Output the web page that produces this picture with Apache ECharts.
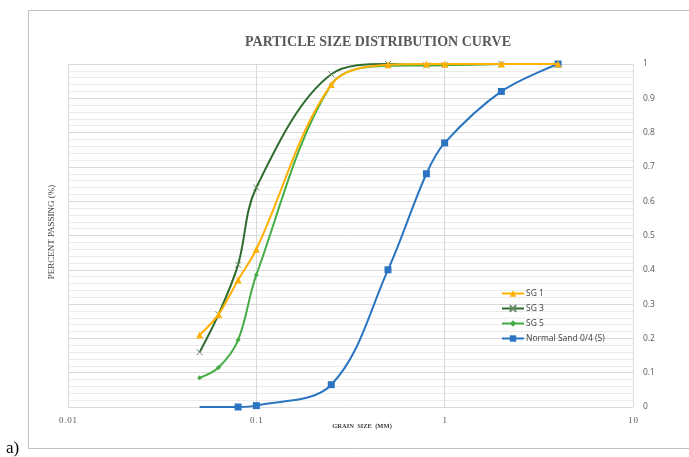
<!DOCTYPE html>
<html><head><meta charset="utf-8">
<script src="https://cdn.jsdelivr.net/npm/echarts@6/dist/echarts.min.js"></script>
<style>html,body{margin:0;padding:0;background:#fff}#c{width:689px;height:457px}</style>
</head><body><div id="c"></div>
<script>
var sizes = [0.05, 0.063, 0.08, 0.1, 0.25, 0.5, 0.8, 1, 2, 4];
var sg1 = [0.21, 0.27, 0.37, 0.46, 0.94, 0.998, 1.0, 1.0, 1.0, 1.0];
var sg3 = [0.16, 0.27, 0.415, 0.64, 0.97, 1.0, 0.996, 0.997, 1.0, null];
var sg5 = [0.085, 0.115, 0.195, 0.385, 0.94, 0.995, 0.996, 0.997, 1.0, null];
var sand = [0, null, 0, 0.004, 0.065, 0.40, 0.68, 0.77, 0.92, 1.0];
var xTicks = [0.01, 0.1, 1, 10];
var yTicks = [0, 0.1, 0.2, 0.3, 0.4, 0.5, 0.6, 0.7, 0.8, 0.9, 1];
var seriesNames = ['SG 1', 'SG 3', 'SG 5', 'Normal Sand 0/4 (S)'];

function pairs(vals, noSymbolFirst) {
  var out = [];
  for (var i = 0; i < sizes.length; i++) {
    if (vals[i] === null) continue;
    var item = { value: [sizes[i], vals[i]] };
    if (noSymbolFirst && out.length === 0) item.symbol = 'none';
    out.push(item);
  }
  return out;
}

var chart = echarts.init(document.getElementById('c'), null, { renderer: 'canvas' });
var crossPath = 'path://M0,0L10,10M10,0L0,10';
var option = {
  animation: false,
  backgroundColor: '#ffffff',
  grid: { left: 68, right: 56, top: 64, bottom: 50 },
  legend: {
    orient: 'vertical', left: 496, top: 284, itemGap: 6,
    itemWidth: 22, itemHeight: 8,
    textStyle: { fontFamily: 'Open Sans', fontSize: 8.5, color: '#404040', padding: [0, 0, 0, -3] },
    data: seriesNames
  },
  xAxis: {
    type: 'log', logBase: 10, min: 0.01, max: 10,
    axisLine: { show: false }, axisTick: { show: false },
    splitLine: { show: true, lineStyle: { color: '#d9d9d9', width: 1 } },
    axisLabel: {
      margin: 9, color: '#595959', fontFamily: 'Liberation Serif', fontSize: 9,
      formatter: function (v) {
        for (var i = 0; i < xTicks.length; i++) if (Math.abs(v - xTicks[i]) < 1e-9) return String(xTicks[i]).split('').join('\u200a');
        return '';
      }
    }
  },
  yAxis: {
    type: 'value', position: 'right', min: 0, max: 1, interval: 0.1,
    axisLine: { show: false }, axisTick: { show: false },
    splitLine: { show: true, lineStyle: { color: '#d9d9d9', width: 1 } },
    minorTick: { show: false, splitNumber: 5 },
    minorSplitLine: { show: true, lineStyle: { color: '#ebebeb', width: 1 } },
    axisLabel: {
      margin: 10, color: '#595959', fontFamily: 'Open Sans', fontSize: 8.5,
      formatter: function (v) {
        for (var i = 0; i < yTicks.length; i++) if (Math.abs(v - yTicks[i]) < 1e-9) return String(yTicks[i]);
        return '';
      }
    }
  },
  series: [
    { name: seriesNames[0], type: 'line', smooth: 0.35, z: 5, data: pairs(sg1),
      symbol: 'triangle', symbolSize: 7,
      lineStyle: { color: '#FFB000', width: 2 }, itemStyle: { color: '#FFB000' } },
    { name: seriesNames[1], type: 'line', smooth: 0.35, z: 4, data: pairs(sg3),
      symbol: crossPath, symbolSize: 6,
      lineStyle: { color: '#2E6B2E', width: 2 },
      itemStyle: { color: '#2E6B2E', borderColor: '#6a8a6a', borderWidth: 1 } },
    { name: seriesNames[2], type: 'line', smooth: 0.35, z: 4, data: pairs(sg5),
      symbol: 'diamond', symbolSize: 5,
      lineStyle: { color: '#45AD45', width: 2 }, itemStyle: { color: '#45AD45' } },
    { name: seriesNames[3], type: 'line', smooth: 0.35, z: 3, data: pairs(sand, true),
      symbol: 'rect', symbolSize: 7,
      lineStyle: { color: '#2A74C2', width: 2 }, itemStyle: { color: '#2A74C2' } }
  ],
  graphic: [
    { type: 'rect', z: -10, shape: { x: 28.5, y: 10.5, width: 700, height: 438 },
      style: { fill: 'none', stroke: '#c0c0c0', lineWidth: 1 } },
    { type: 'text', x: 378, y: 42, style: { text: 'PARTICLE SIZE DISTRIBUTION CURVE', fill: '#595959',
      font: 'bold 14px "Liberation Serif"', textAlign: 'center', textVerticalAlign: 'middle' } },
    { type: 'text', x: 52, y: 232, rotation: Math.PI / 2, style: { text: 'PERCENT PASSING (%)', fill: '#404040',
      font: '9px "Liberation Serif"', textAlign: 'center', textVerticalAlign: 'middle' } },
    { type: 'text', x: 362, y: 426, style: { text: 'GRAIN  SIZE  (MM)', fill: '#404040',
      font: 'bold 6.5px "Liberation Serif"', textAlign: 'center', textVerticalAlign: 'middle' } },
    { type: 'text', x: 6, y: 449, style: { text: 'a)', fill: '#000000',
      font: '17px "Liberation Serif"', textAlign: 'left', textVerticalAlign: 'middle' } }
  ]
};
chart.setOption(option);
</script></body></html>
